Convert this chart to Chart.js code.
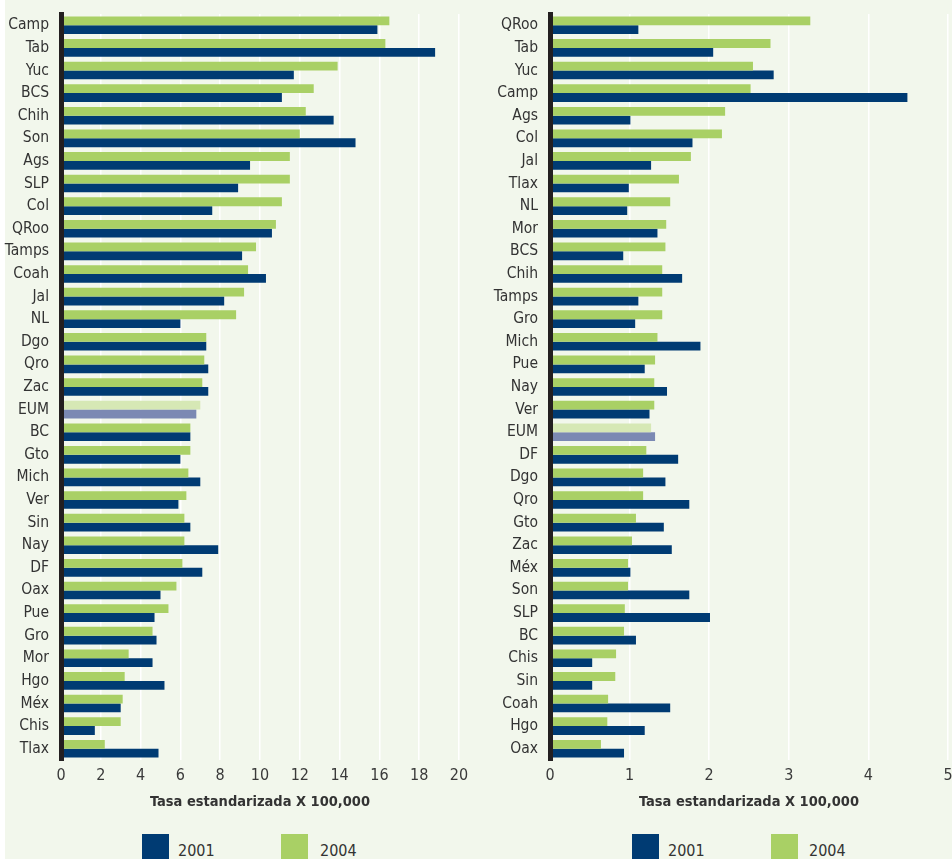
<!DOCTYPE html>
<html>
<head>
<meta charset="utf-8">
<script src="https://cdn.jsdelivr.net/npm/chart.js@4/dist/chart.umd.min.js"></script>
<style>
  html, body { margin: 0; padding: 0; width: 952px; height: 859px; overflow: hidden; background: #f2f7ec; }
  #strip { position: absolute; left: 0; top: 0; width: 5px; height: 859px; background: #fff; }
  .wrap { position: absolute; top: 0; height: 830px; }
  .sw { position: absolute; top: 834px; width: 27px; height: 30px; }
  .lab { position: absolute; top: 842px; font: 16px "DejaVu Sans Condensed", "DejaVu Sans", sans-serif; line-height: 18px; color: #333; }
</style>
</head>
<body>
<div id="strip"></div>
<div class="wrap" style="left:0;width:476px"><canvas id="left"></canvas></div>
<div class="wrap" style="left:476px;width:500px"><canvas id="right"></canvas></div>

<div class="sw" style="left:142px;background:#003b73"></div><div class="lab" style="left:178px">2001</div>
<div class="sw" style="left:281px;background:#a9d065"></div><div class="lab" style="left:320px">2004</div>
<div class="sw" style="left:632px;background:#003b73"></div><div class="lab" style="left:668px">2001</div>
<div class="sw" style="left:771px;background:#a9d065"></div><div class="lab" style="left:809px">2004</div>

<script>
  'use strict'

  // left panel
  const leftStates = ['Camp', 'Tab', 'Yuc', 'BCS', 'Chih', 'Son', 'Ags', 'SLP', 'Col', 'QRoo', 'Tamps', 'Coah', 'Jal', 'NL', 'Dgo', 'Qro', 'Zac', 'EUM', 'BC', 'Gto', 'Mich', 'Ver', 'Sin', 'Nay', 'DF', 'Oax', 'Pue', 'Gro', 'Mor', 'Hgo', 'Méx', 'Chis', 'Tlax']
  const left2004 = [16.5, 16.3, 13.9, 12.7, 12.3, 12.0, 11.5, 11.5, 11.1, 10.8, 9.8, 9.4, 9.2, 8.8, 7.3, 7.2, 7.1, 7.0, 6.5, 6.5, 6.4, 6.3, 6.2, 6.2, 6.1, 5.8, 5.4, 4.6, 3.4, 3.2, 3.1, 3.0, 2.2]
  const left2001 = [15.9, 18.8, 11.7, 11.1, 13.7, 14.8, 9.5, 8.9, 7.6, 10.6, 9.1, 10.3, 8.2, 6.0, 7.3, 7.4, 7.4, 6.8, 6.5, 6.0, 7.0, 5.9, 6.5, 7.9, 7.1, 5.0, 4.7, 4.8, 4.6, 5.2, 3.0, 1.7, 4.9]

  // right panel
  const rightStates = ['QRoo', 'Tab', 'Yuc', 'Camp', 'Ags', 'Col', 'Jal', 'Tlax', 'NL', 'Mor', 'BCS', 'Chih', 'Tamps', 'Gro', 'Mich', 'Pue', 'Nay', 'Ver', 'EUM', 'DF', 'Dgo', 'Qro', 'Gto', 'Zac', 'Méx', 'Son', 'SLP', 'BC', 'Chis', 'Sin', 'Coah', 'Hgo', 'Oax']
  const right2004 = [3.27, 2.77, 2.55, 2.52, 2.20, 2.16, 1.77, 1.62, 1.51, 1.46, 1.45, 1.41, 1.41, 1.41, 1.35, 1.32, 1.31, 1.31, 1.27, 1.21, 1.17, 1.17, 1.08, 1.03, 0.98, 0.98, 0.94, 0.93, 0.83, 0.82, 0.73, 0.72, 0.64]
  const right2001 = [1.11, 2.05, 2.81, 4.49, 1.01, 1.79, 1.27, 0.99, 0.97, 1.35, 0.92, 1.66, 1.11, 1.07, 1.89, 1.19, 1.47, 1.25, 1.32, 1.61, 1.45, 1.75, 1.43, 1.53, 1.01, 1.75, 2.01, 1.08, 0.53, 0.53, 1.51, 1.19, 0.93]

  const GREEN = '#a9d065'
  const BLUE = '#003b73'
  const GREEN_NAT = '#d6e8b5'
  const BLUE_NAT = '#7b89b3'
  const FONT = '"DejaVu Sans Condensed", "DejaVu Sans", sans-serif'

  function makeChart (id, labels, v2004, v2001, xMax, step, yWidth, padRight) {
    const greens = labels.map(l => l === 'EUM' ? GREEN_NAT : GREEN)
    const blues = labels.map(l => l === 'EUM' ? BLUE_NAT : BLUE)
    return new Chart(document.getElementById(id), {
      type: 'bar',
      data: {
        labels: labels,
        datasets: [{
          label: '2004',
          data: v2004,
          backgroundColor: greens,
          borderWidth: 0
        }, {
          label: '2001',
          data: v2001,
          backgroundColor: blues,
          borderWidth: 0
        }]
      },
      options: {
        indexAxis: 'y',
        responsive: true,
        maintainAspectRatio: false,
        animation: false,
        categoryPercentage: 0.78,
        barPercentage: 1.0,
        layout: { padding: { top: 14, right: padRight, left: 0, bottom: 0 } },
        plugins: {
          legend: { display: false },
          tooltip: { enabled: false }
        },
        scales: {
          x: {
            min: 0,
            max: xMax,
            afterFit: s => { s.height = 70 },
            grid: { color: '#ffffff', lineWidth: 1.5, drawTicks: false },
            border: { display: false },
            ticks: {
              stepSize: step,
              padding: 6,
              color: '#3a3a3a',
              font: { family: FONT, size: 16 }
            },
            title: {
              display: true,
              text: 'Tasa estandarizada X 100,000',
              color: '#333',
              font: { family: FONT, size: 14.5, weight: 'bold' },
              padding: { top: 0, bottom: 19 }
            }
          },
          y: {
            afterFit: s => {
              s.width = yWidth
              s.paddingTop = 0
              s.paddingBottom = 0
            },
            grid: { display: false, drawTicks: false },
            border: { display: true, color: '#231f20', width: 5, z: 1 },
            ticks: {
              autoSkip: false,
              padding: 12,
              color: '#333',
              font: { family: FONT, size: 15.5 }
            }
          }
        }
      }
    })
  }

  makeChart('left', leftStates, left2004, left2001, 20, 2, 61, 17)
  makeChart('right', rightStates, right2004, right2001, 5, 1, 74, 28)
</script>
</body>
</html>
